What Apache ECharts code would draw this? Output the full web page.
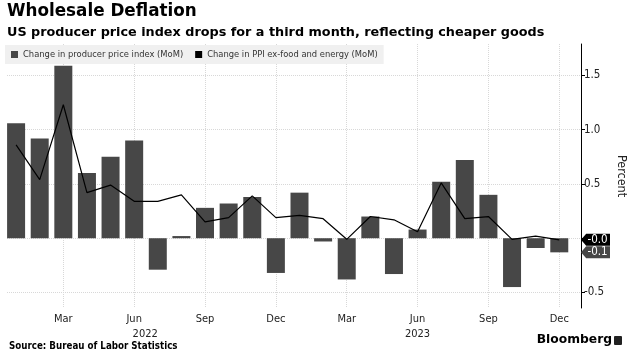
<!DOCTYPE html>
<html><head><meta charset="utf-8">
<script src="https://cdn.jsdelivr.net/npm/echarts@6/dist/echarts.min.js"></script>
<style>html,body{margin:0;padding:0;background:#fff}#c{width:628px;height:359px}</style>
</head><body><div id="c"></div>
<script>
// Monthly, Jan 2022 .. Dec 2023
const months = ['Jan','Feb','Mar','Apr','May','Jun','Jul','Aug','Sep','Oct','Nov','Dec',
                'Jan','Feb','Mar','Apr','May','Jun','Jul','Aug','Sep','Oct','Nov','Dec'];
const ppiMoM = [1.06,0.92,1.59,0.60,0.75,0.90,-0.29,0.02,0.28,0.32,0.38,-0.32,
                0.42,-0.03,-0.38,0.20,-0.33,0.08,0.52,0.72,0.40,-0.45,-0.09,-0.13];
const coreMoM = [0.86,0.54,1.23,0.42,0.49,0.34,0.34,0.40,0.15,0.19,0.39,0.19,
                 0.21,0.18,-0.01,0.20,0.17,0.06,0.51,0.18,0.20,-0.01,0.02,-0.015];
const xTickIdx = [2,5,8,11,14,17,20,23];
const yearLabels = {5:'2022', 17:'2023'};
const yTickVals = [-0.5,0,0.5,1.0,1.5];
const yLabelVals = [-0.5,0.5,1.0,1.5];
const seriesNames = ['Change in producer price index (MoM)','Change in PPI ex-food and energy (MoM)'];

const X_MIN = -0.385, X_MAX = 23.92;
const F = 'DejaVu Sans Condensed, DejaVu Sans, sans-serif';
const arrowBox = 'path://M0,6 L5,0 L28,0 L28,12 L5,12 Z';

const chart = echarts.init(document.getElementById('c'), null, {renderer:'canvas'});
chart.setOption({
  animation:false,
  backgroundColor:'#fff',
  title:[
    {text:'Wholesale Deflation', left:7, top:3, padding:0,
     textStyle:{fontFamily:'DejaVu Sans', fontWeight:'bold', fontSize:16.8, color:'#000'}},
    {text:'US producer price index drops for a third month, reflecting cheaper goods', left:7, top:26, padding:0,
     textStyle:{fontFamily:'DejaVu Sans', fontWeight:'bold', fontSize:12.8, color:'#000'}}
  ],
  legend:{
    left:5, top:45, padding:[5,6,5,6], backgroundColor:'#f0f0f0',
    itemWidth:7, itemHeight:7, itemGap:12, icon:'rect',
    textStyle:{fontFamily:F, fontSize:9.3, color:'#333'},
    data:[{name:seriesNames[0], itemStyle:{color:'#474747'}},{name:seriesNames[1], itemStyle:{color:'#000'}}]
  },
  grid:{left:7, right:47, top:44, bottom:51, outerBoundsMode:'none', containLabel:false},
  xAxis:{
    type:'value', min:X_MIN, max:X_MAX,
    axisLine:{show:false},
    axisTick:{show:false, customValues:xTickIdx},
    splitLine:{show:true, lineStyle:{type:'dotted', color:'#d8d8d8', width:1}},
    axisLabel:{customValues:xTickIdx, margin:4, fontFamily:F, fontSize:11, color:'#222',
      formatter:function(v){
        const i = Math.round(v);
        const m = months[i];
        if (yearLabels[i]) return '{m|'+m+'}\n{'+(i===5?'y1':'y0')+'|'+yearLabels[i]+'}';
        return '{m|'+m+'}';
      },
      rich:{
        m:{fontFamily:F, fontSize:11, color:'#222', lineHeight:15},
        y0:{fontFamily:F, fontSize:11, color:'#222', lineHeight:15},
        y1:{fontFamily:F, fontSize:11, color:'#222', lineHeight:15, padding:[0,0,0,22]}
      }
    }
  },
  yAxis:{
    type:'value', position:'right', min:-0.643, max:1.79,
    axisLine:{show:true, onZero:false, lineStyle:{color:'#000', width:1}},
    axisTick:{show:true, customValues:yTickVals, length:4, lineStyle:{color:'#000'}},
    axisLabel:{customValues:yLabelVals, margin:3, fontFamily:F, fontSize:11.5, color:'#222',
      formatter:function(v){return v.toFixed(1);}},
    splitLine:{show:true, lineStyle:{type:'dotted', color:'#d8d8d8', width:1}},
    name:'Percent', nameLocation:'middle', nameRotate:-90, nameGap:33,
    nameTextStyle:{fontFamily:F, fontSize:12.5, color:'#222'}
  },
  series:[
    {name:seriesNames[0], type:'bar', barWidth:18, itemStyle:{color:'#474747'},
     data:ppiMoM.map((v,i)=>[i,v]), z:2,
     markPoint:{symbol:arrowBox, symbolSize:[29,12], symbolOffset:[14.5,0], silent:true,
       itemStyle:{color:'#474747'},
       label:{show:true, position:'inside', offset:[2,0], color:'#fff', fontFamily:F, fontSize:11.5,
         formatter:p=>p.value.toFixed(1)},
       data:[{coord:[X_MAX, ppiMoM[ppiMoM.length-1]], value:ppiMoM[ppiMoM.length-1]}]}
    },
    {name:seriesNames[1], type:'line', showSymbol:false, symbol:'none', z:3,
     lineStyle:{color:'#000', width:1.2}, itemStyle:{color:'#000'},
     data:coreMoM.map((v,i)=>[i,v]),
     markPoint:{symbol:arrowBox, symbolSize:[29,12], symbolOffset:[14.5,0], silent:true,
       itemStyle:{color:'#000'},
       label:{show:true, position:'inside', offset:[2,0], color:'#fff', fontFamily:F, fontSize:11.5,
         formatter:p=>p.value.toFixed(1)},
       data:[{coord:[X_MAX, coreMoM[coreMoM.length-1]], value:coreMoM[coreMoM.length-1]}]}
    }
  ],
  graphic:[
    {type:'text', left:9, top:341, style:{text:'Source: Bureau of Labor Statistics', fill:'#000',
      font:'bold 9.7px "DejaVu Sans Condensed", "DejaVu Sans", sans-serif'}},
    {type:'text', right:16, top:334, style:{text:'Bloomberg', fill:'#000',
      font:'bold 12.3px "DejaVu Sans", sans-serif'}},
    {type:'rect', right:6, top:336, shape:{width:8, height:9, r:1}, style:{fill:'#222'}}
  ]
});
</script></body></html>
